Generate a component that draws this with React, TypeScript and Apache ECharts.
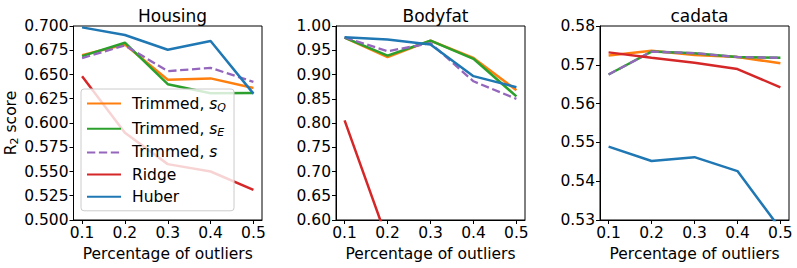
import React, { useEffect, useRef } from "react";
import * as echarts from "echarts";

const outlierFractions = [0.1, 0.2, 0.3, 0.4, 0.5];

// Housing
const housingTrimQ = [0.670, 0.681, 0.6445, 0.646, 0.636];
const housingTrimE = [0.669, 0.6828, 0.640, 0.6307, 0.631];
const housingTrimS = [0.6669, 0.680, 0.6534, 0.6569, 0.6424];
const housingRidge = [0.6483, 0.590, 0.5576, 0.550, 0.531];
const housingHuber = [0.6986, 0.6907, 0.6755, 0.6845, 0.6303];

// Bodyfat
const bodyfatTrimQ = [0.976, 0.936, 0.9697, 0.934, 0.8676];
const bodyfatTrimE = [0.976, 0.939, 0.9697, 0.9324, 0.855];
const bodyfatTrimS = [0.9766, 0.948, 0.9648, 0.886, 0.8497];
const bodyfatRidge = [0.8055, 0.558, 0.45, 0.40, 0.35];
const bodyfatHuber = [0.977, 0.9724, 0.962, 0.8966, 0.8738];

// cadata
const cadataTrimQ = [0.5724, 0.5736, 0.5725, 0.572, 0.5704];
const cadataTrimE = [0.5675, 0.5734, 0.573, 0.572, 0.5718];
const cadataTrimS = [0.5675, 0.5734, 0.573, 0.572, 0.5718];
const cadataRidge = [0.5732, 0.5718, 0.5705, 0.5689, 0.5642];
const cadataHuber = [0.5489, 0.5452, 0.5462, 0.5426, 0.5277];

const panelTitles = ["Housing", "Bodyfat", "cadata"];
const yMins = [0.5, 0.6, 0.53];
const yMaxs = [0.7, 1.0, 0.58];
const yIntervals = [0.025, 0.05, 0.01];
const yDecimals = [3, 2, 2];

const methodNames = ["Trimmed, sQ", "Trimmed, sE", "Trimmed, s", "Ridge", "Huber"];
const methodColors = ["#ff7f0e", "#2ca02c", "#9467bd", "#d62728", "#1f77b4"];
const methodDashed = [false, false, true, false, false];

const panelData = [
  [housingTrimQ, housingTrimE, housingTrimS, housingRidge, housingHuber],
  [bodyfatTrimQ, bodyfatTrimE, bodyfatTrimS, bodyfatRidge, bodyfatHuber],
  [cadataTrimQ, cadataTrimE, cadataTrimS, cadataRidge, cadataHuber],
];

const FONT = "DejaVu Sans";

export default function App() {
  const ref = useRef<HTMLDivElement>(null);
  useEffect(() => {
    document.body.style.margin = "0";
    if (!ref.current) return;
    const chart = echarts.init(ref.current, undefined, { renderer: "svg" });
    const gridLefts = [73, 336, 600];
    const gridW = 189;
    const gridTop = 26;
    const gridH = 194;

    const grids = gridLefts.map((l) => ({
      left: l,
      top: gridTop,
      width: gridW,
      height: gridH,
      show: true,
      borderColor: "#000",
      borderWidth: 1,
      backgroundColor: "transparent",
    }));

    const xAxes = gridLefts.map((_, i) => ({
      type: "value",
      gridIndex: i,
      min: 0.08,
      max: 0.52,
      name: "Percentage of outliers",
      nameLocation: "middle",
      nameGap: 25,
      nameTextStyle: { fontFamily: FONT, fontSize: 15.5, color: "#000", verticalAlign: "top" },
      axisLine: { show: true, lineStyle: { color: "#000", width: 1 } },
      axisTick: {
        show: true,
        length: 4,
        customValues: outlierFractions,
        lineStyle: { color: "#000" },
      },
      axisLabel: {
        customValues: outlierFractions,
        formatter: (v: number) => v.toFixed(1),
        fontFamily: FONT,
        fontSize: 15.5,
        color: "#000",
        margin: 5,
      },
      splitLine: { show: false },
    }));

    const yAxes = gridLefts.map((_, i) => ({
      type: "value",
      gridIndex: i,
      min: yMins[i],
      max: yMaxs[i],
      interval: yIntervals[i],
      name: i === 0 ? "{r|R}{s|2}{r| score}" : "",
      nameLocation: "middle",
      nameGap: 53,
      nameTextStyle: {
        fontFamily: FONT,
        fontSize: 15.5,
        color: "#000",
        rich: {
          r: { fontFamily: FONT, fontSize: 15.5, color: "#000", lineHeight: 20 },
          s: { fontFamily: FONT, fontSize: 11, color: "#000", lineHeight: 20, padding: [8, 0, 0, 0] },
        },
      },
      axisLine: { show: true, lineStyle: { color: "#000", width: 1 } },
      axisTick: { show: true, length: 4, lineStyle: { color: "#000" } },
      axisLabel: {
        formatter: (v: number) => v.toFixed(yDecimals[i]),
        fontFamily: FONT,
        fontSize: 15.5,
        color: "#000",
        margin: 5,
      },
      splitLine: { show: false },
    }));

    const series: any[] = [];
    panelData.forEach((methods, p) => {
      methods.forEach((vals, m) => {
        series.push({
          type: "line",
          name: methodNames[m],
          xAxisIndex: p,
          yAxisIndex: p,
          data: outlierFractions.map((x, k) => [x, vals[k]]),
          symbol: "none",
          clip: true,
          z: 2 + m * 0.1,
          lineStyle: {
            color: methodColors[m],
            width: methodDashed[m] ? 2.3 : 2.5,
            type: methodDashed[m] ? [8.3, 3.6] : "solid",
          },
          itemStyle: { color: methodColors[m] },
        });
      });
    });

    const legendLabels: Record<string, string> = {
      "Trimmed, sQ": "{t|Trimmed, }{i|s}{sub|Q}",
      "Trimmed, sE": "{t|Trimmed, }{i|s}{sub|E}",
      "Trimmed, s": "{t|Trimmed, }{i|s}",
      Ridge: "{t|Ridge}",
      Huber: "{t|Huber}",
    };

    chart.setOption({
      animation: false,
      backgroundColor: "#fff",
      title: panelTitles.map((t, i) => ({
        text: t,
        left: gridLefts[i] + gridW / 2,
        top: 2,
        textAlign: "center",
        textStyle: { fontFamily: FONT, fontSize: 17, fontWeight: "normal", color: "#000" },
      })),
      grid: grids,
      xAxis: xAxes,
      yAxis: yAxes,
      legend: {
        show: true,
        orient: "vertical",
        left: 81,
        top: 89,
        data: methodNames,
        itemWidth: 34,
        itemHeight: 14,
        itemGap: 6.2,
        padding: [5, 8, 6, 5],
        backgroundColor: "rgba(255,255,255,0.8)",
        borderColor: "#cccccc",
        borderWidth: 1,
        borderRadius: 3,
        selectedMode: false,
        itemStyle: { color: "rgba(0,0,0,0)", borderWidth: 0, opacity: 0 },
        formatter: (n: string) => legendLabels[n],
        textStyle: {
          fontFamily: FONT,
          fontSize: 15.5,
          color: "#000",
          padding: [0, 0, 0, 6],
          rich: {
            t: { fontFamily: FONT, fontSize: 15.5, color: "#000", lineHeight: 18 },
            i: { fontFamily: FONT, fontSize: 15.5, fontStyle: "italic", color: "#000", lineHeight: 18 },
            sub: { fontFamily: FONT, fontSize: 11, fontStyle: "italic", color: "#000", lineHeight: 18, padding: [8, 0, 0, 0] },
          },
        },
      },
      series,
    });
    return () => chart.dispose();
  }, []);
  return <div ref={ref} style={{ width: 797, height: 268 }} />;
}
